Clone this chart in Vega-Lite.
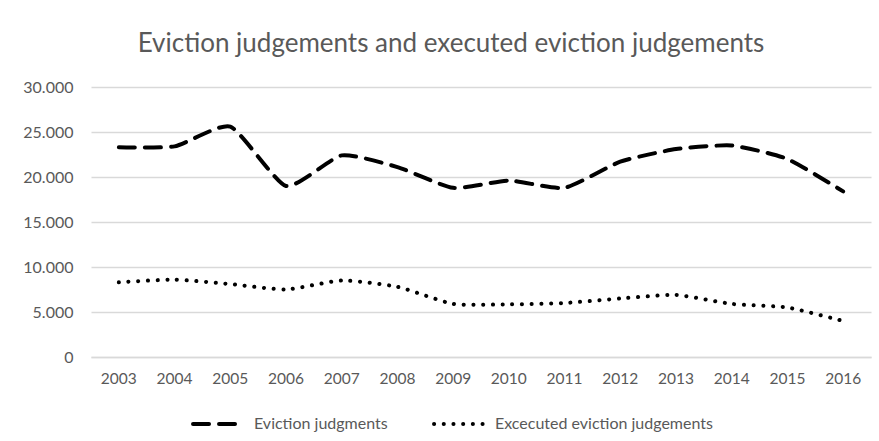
{
  "$schema": "https://vega.github.io/schema/vega-lite/v6.json",
  "autosize": {"type": "none"},
  "width": 780,
  "height": 270,
  "padding": {"left": 91, "top": 87, "right": 8, "bottom": 84},
  "background": "white",
  "config": {
    "font": "Lato",
    "view": {"stroke": null},
    "locale": {"number": {"decimal": ",", "thousands": ".", "grouping": [3], "currency": ["", " €"]}}
  },
  "title": {
    "text": "Eviction judgements and executed eviction judgements",
    "fontSize": 26,
    "fontWeight": "normal",
    "color": "#595959",
    "anchor": "middle",
    "dx": -30,
    "offset": 22
  },
  "data": {
    "values": [
      {"year": "2003", "series": "Eviction judgments", "value": 23300},
      {"year": "2004", "series": "Eviction judgments", "value": 23400},
      {"year": "2005", "series": "Eviction judgments", "value": 25600},
      {"year": "2006", "series": "Eviction judgments", "value": 19000},
      {"year": "2007", "series": "Eviction judgments", "value": 22400},
      {"year": "2008", "series": "Eviction judgments", "value": 21100},
      {"year": "2009", "series": "Eviction judgments", "value": 18800},
      {"year": "2010", "series": "Eviction judgments", "value": 19600},
      {"year": "2011", "series": "Eviction judgments", "value": 18800},
      {"year": "2012", "series": "Eviction judgments", "value": 21700},
      {"year": "2013", "series": "Eviction judgments", "value": 23100},
      {"year": "2014", "series": "Eviction judgments", "value": 23500},
      {"year": "2015", "series": "Eviction judgments", "value": 22000},
      {"year": "2016", "series": "Eviction judgments", "value": 18400},
      {"year": "2003", "series": "Excecuted eviction judgements", "value": 8300},
      {"year": "2004", "series": "Excecuted eviction judgements", "value": 8600},
      {"year": "2005", "series": "Excecuted eviction judgements", "value": 8100},
      {"year": "2006", "series": "Excecuted eviction judgements", "value": 7500},
      {"year": "2007", "series": "Excecuted eviction judgements", "value": 8500},
      {"year": "2008", "series": "Excecuted eviction judgements", "value": 7800},
      {"year": "2009", "series": "Excecuted eviction judgements", "value": 5900},
      {"year": "2010", "series": "Excecuted eviction judgements", "value": 5850},
      {"year": "2011", "series": "Excecuted eviction judgements", "value": 6000},
      {"year": "2012", "series": "Excecuted eviction judgements", "value": 6500},
      {"year": "2013", "series": "Excecuted eviction judgements", "value": 6900},
      {"year": "2014", "series": "Excecuted eviction judgements", "value": 5900},
      {"year": "2015", "series": "Excecuted eviction judgements", "value": 5500},
      {"year": "2016", "series": "Excecuted eviction judgements", "value": 4000}
    ]
  },
  "mark": {"type": "line", "interpolate": "cardinal", "tension": 0.45, "strokeWidth": 4, "strokeCap": "round", "color": "black"},
  "encoding": {
    "x": {
      "field": "year",
      "type": "ordinal",
      "scale": {"type": "band", "paddingInner": 0, "paddingOuter": 0},
      "axis": {
        "title": null,
        "labelAngle": 0,
        "labelFontSize": 15.5,
        "labelColor": "#595959",
        "labelPadding": 14,
        "ticks": false,
        "domain": true,
        "domainColor": "#d9d9d9",
        "domainWidth": 1.3,
        "grid": false
      }
    },
    "y": {
      "field": "value",
      "type": "quantitative",
      "scale": {"domain": [0, 30000], "nice": false},
      "axis": {
        "title": null,
        "values": [0, 5000, 10000, 15000, 20000, 25000, 30000],
        "format": ",.0f",
        "labelFontSize": 16,
        "labelColor": "#595959",
        "labelPadding": 18,
        "ticks": false,
        "domain": false,
        "grid": true,
        "gridColor": "#d9d9d9",
        "gridWidth": 1.3
      }
    },
    "strokeDash": {
      "field": "series",
      "type": "nominal",
      "scale": {
        "domain": ["Eviction judgments", "Excecuted eviction judgements"],
        "range": [[16, 10], [0.1, 9.6]]
      },
      "legend": {
        "title": null,
        "orient": "none",
        "legendX": 100,
        "legendY": 309,
        "direction": "horizontal",
        "symbolType": "stroke",
        "symbolStrokeWidth": 4,
        "symbolStrokeColor": "black",
        "symbolSize": 2700,
        "labelFontSize": 16,
        "labelColor": "#595959",
        "labelLimit": 400,
        "labelOffset": 7,
        "columnPadding": 38,
        "encode": {"symbols": {"update": {"strokeCap": {"value": "round"}}}}
      }
    }
  }
}
